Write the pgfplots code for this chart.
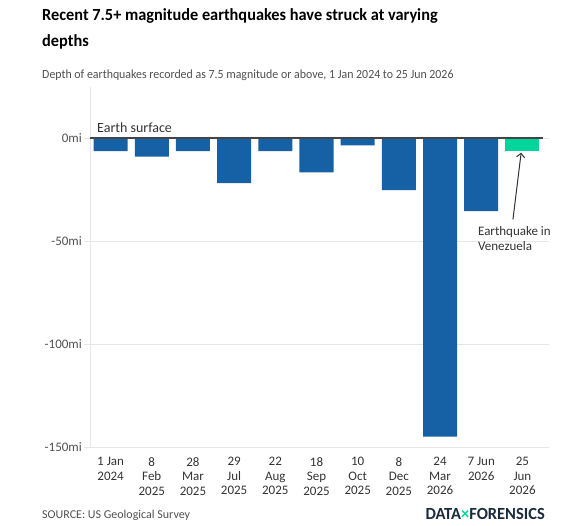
\documentclass[border=0pt]{standalone}
\usepackage{pgfplots}
\pgfplotsset{compat=1.18}
\usetikzlibrary{arrows.meta}
\usepackage{fontspec}
\setmainfont{Carlito}
\newfontfamily\titlefont[FakeStretch=0.96]{Carlito}
\newfontfamily\subfont[FakeStretch=0.95]{Carlito}
\definecolor{barblue}{HTML}{1660A5}
\definecolor{bargreen}{HTML}{00D59B}
\definecolor{zeroline}{HTML}{444444}
\definecolor{gridgrey}{HTML}{E6E6E6}
\definecolor{txtgrey}{HTML}{505050}
\definecolor{txtdark}{HTML}{333333}
\definecolor{logonavy}{HTML}{1B2B3E}
\begin{document}
\begin{tikzpicture}
\path[use as bounding box] (0pt,0pt) rectangle (587pt,526pt);
\node[anchor=base west, inner sep=0, font=\titlefont\fontsize{17}{20}\selectfont\bfseries, text=black] at (42pt,505pt) {Recent 7.5+ magnitude earthquakes have struck at varying};
\node[anchor=base west, inner sep=0, font=\titlefont\fontsize{17}{20}\selectfont\bfseries, text=black] at (42pt,479pt) {depths};
\node[anchor=base west, inner sep=0, font=\subfont\fontsize{12.5}{14}\selectfont, text=txtgrey] at (42pt,447pt) {Depth of earthquakes recorded as 7.5 magnitude or above, 1 Jan 2024 to 25 Jun 2026};
\begin{axis}[at={(90pt,79pt)}, anchor=south west, scale only axis,
  width=453pt, height=360pt,
  xmin=-0.5, xmax=10.5, ymin=-150, ymax=25,
  axis line style={draw=none},
  clip=false,
  ytick={-150,-100,-50,0},
  yticklabels={-150mi,-100mi,-50mi,0mi},
  ymajorgrids, grid style={gridgrey, line width=0.8pt},
  ytick style={draw=gridgrey, line width=0.8pt},
  tick align=outside, major tick length=6pt,
  yticklabel style={font=\fontsize{13}{14}\selectfont, text=txtgrey, inner sep=2pt},
  xtick={0,...,10},
  xtick style={draw=none},
  xticklabels={{1 Jan\\2024},{8\\Feb\\2025},{28\\Mar\\2025},{29\\Jul\\2025},{22\\Aug\\2025},{18\\Sep\\2025},{10\\Oct\\2025},{8\\Dec\\2025},{24\\Mar\\2026},{7 Jun\\2026},{25\\Jun\\2026}},
  xticklabel style={align=center, font=\fontsize{13}{14.6}\selectfont, text=txtdark, anchor=north, inner sep=0pt, yshift=-4pt},
  /pgf/number format/assume math mode=true,
]
\draw[gridgrey, line width=0.8pt] (axis cs:-0.5,-150) -- (axis cs:-0.5,25);
\addplot[ybar, bar width=0.826, bar shift=0pt, fill=barblue, draw=none] coordinates {
(0,-6.2) (1,-8.9) (2,-6.2) (3,-21.7) (4,-6.2) (5,-16.5) (6,-3.4) (7,-25.1) (8,-145.0) (9,-35.4)};
\addplot[ybar, bar width=0.826, bar shift=0pt, fill=bargreen, draw=none] coordinates {(10,-6.2)};
\draw[zeroline, line width=2pt] (axis cs:-0.5,0) -- (axis cs:10.5,0);
\node[anchor=base west, inner sep=0, font=\fontsize{14}{14}\selectfont, text=txtdark] at (axis cs:-0.33,3) {Earth surface};
\draw[txtdark, line width=1pt, -{Straight Barb[length=4pt,width=8pt]}] (axis cs:9.77,-39.4) -- (axis cs:9.97,-6.9);
\node[anchor=north west, inner sep=0, align=left, font=\fontsize{13}{15}\selectfont, text=txtdark] at (axis cs:8.92,-42.5) {Earthquake in\\Venezuela};
\end{axis}
\node[anchor=base west, inner sep=0, font=\fontsize{12}{13}\selectfont, text=txtgrey] at (42pt,7pt) {SOURCE: US Geological Survey};
\node[anchor=base east, inner sep=0] at (545pt,6pt) {\scalebox{0.97}[1]{\fontsize{17}{17}\selectfont\bfseries\color{logonavy}DATA\textcolor{bargreen}{×}FORENSICS}};
\end{tikzpicture}
\end{document}
